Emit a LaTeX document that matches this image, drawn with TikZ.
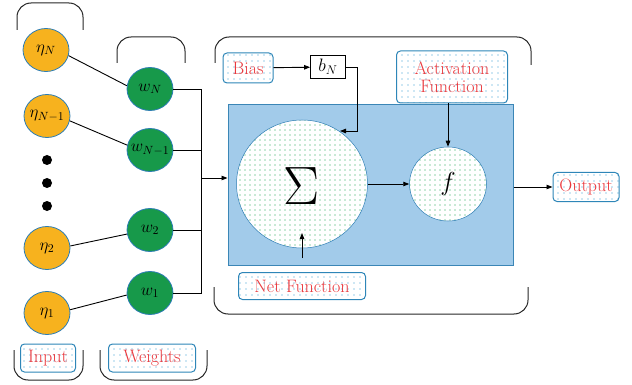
\documentclass[tikz,border=0pt]{standalone}
\usepackage{fix-cm}
\usepackage{fontspec}
\usetikzlibrary{arrows.meta,patterns.meta,shapes.geometric}
\definecolor{orng}{HTML}{F7B21E}
\definecolor{grn}{HTML}{17994A}
\definecolor{cborder}{HTML}{2C7DB4}
\definecolor{corefill}{HTML}{A2CBEA}
\definecolor{coreedge}{HTML}{3B86B6}
\definecolor{lblred}{HTML}{EA383D}
\definecolor{boxedge}{HTML}{2E86B8}
\definecolor{boxdots}{HTML}{2E9BD0}
\definecolor{cdots}{HTML}{1DA050}
\tikzset{
  base/.style={font=\fontsize{18}{20}\selectfont},
  cbase/.style={font=\fontsize{17}{19}\selectfont},
  inp/.style={cbase,ellipse,draw=cborder,fill=orng,line width=0.8pt,minimum width=46,minimum height=43,inner sep=-4pt},
  wgt/.style={cbase,ellipse,draw=cborder,fill=grn,line width=0.8pt,minimum width=46,minimum height=43,inner sep=-4pt},
  blackdot/.style={circle,fill=black,minimum size=10,inner sep=0pt},
  lbl/.style={base,text=lblred,draw=boxedge,line width=1pt,rounded corners=4,
     preaction={fill=white},pattern={Dots[distance=6pt,radius=0.65pt]},pattern color=boxdots,
     inner sep=0pt,align=center},
  dotcirc/.style={ellipse,draw=cborder,line width=0.5pt,preaction={fill=white},
     pattern={Dots[distance=5pt,radius=0.7pt]},pattern color=cdots,inner sep=0pt},
  conn/.style={line width=0.9pt},
  arr/.style={line width=0.9pt,-{Triangle[length=6pt,width=4.5pt]}},
  brk/.style={line width=1pt,rounded corners=14,black!85},
}
\begin{document}
\begin{tikzpicture}[x=1pt,y=-1pt]
\useasboundingbox (0,0) rectangle (632,385);
% brackets
\draw[brk] (17,30) -- (17,3) -- (83,3) -- (83,30);
\draw[brk] (117,63) -- (117,37) -- (185,37) -- (185,63);
\draw[brk] (215,63) -- (215,37) -- (531,37) -- (531,65);
\draw[brk] (14,350) -- (14,380) -- (83,380) -- (83,350);
\draw[brk] (100,350) -- (100,380) -- (207,380) -- (207,350);
\draw[brk] (214,287) -- (214,314) -- (528,314) -- (528,287);
% inputs
\node[inp] (eN) at (46,50) {$\eta_N$};
\node[inp] (eN1) at (47,116) {$\eta_{N-1}$};
\node[blackdot] (d1) at (47,160) {};
\node[blackdot] (d2) at (47,183) {};
\node[blackdot] (d3) at (47,206) {};
\node[inp] (e2) at (47,248) {$\eta_2$};
\node[inp] (e1) at (47,313) {$\eta_1$};
% weights
\node[wgt] (wN) at (150,89) {$w_N$};
\node[wgt] (wN1) at (150,150) {$w_{N-1}$};
\node[wgt] (w2) at (150,230) {$w_2$};
\node[wgt] (w1) at (150,293) {$w_1$};
\draw[conn] (eN.-14) -- (wN.172);
\draw[conn] (eN1.-12) -- (wN1.168);
\draw[conn] (e2.5) -- (w2.190);
\draw[conn] (e1.8) -- (w1.185);
% labels bottom
\node[lbl,minimum width=55,minimum height=28] (input) at (48,358) {Input};
\node[lbl,minimum width=87,minimum height=28] (weights) at (152,358) {Weights};
% core
\node[draw=coreedge,fill=corefill,line width=1pt,minimum width=285,minimum height=160,inner sep=0pt] (core) at (370.5,185) {};
\node[dotcirc,minimum width=131,minimum height=128] (sum) at (302,184) {};
\node[font=\fontsize{54}{56}\selectfont] (sigma) at (302,186) {Σ};
\node[dotcirc,minimum width=77,minimum height=74,font=\fontsize{26}{28}\selectfont] (f) at (448,184) {$f$};
% bus
\coordinate (jn) at (201,178);
\draw[conn] (wN.east) -| (jn);
\draw[conn] (w1.east) -| (jn);
\draw[conn] (wN1.east) -- (wN1.east -| jn);
\draw[conn] (w2.east) -- (w2.east -| jn);
\draw[arr] (jn) -- (core.west |- jn);
% sum -> f
\draw[arr] (sum.east) -- (f.west);
% output
\node[lbl,minimum width=66,minimum height=29] (out) at (586,187) {Output};
\draw[arr] (core.east |- out) -- (out.west);
% bias
\node[lbl,minimum width=50,minimum height=30] (bias) at (248,68) {Bias};
\node[base,draw,fill=white,line width=0.8pt,minimum width=35,minimum height=23,inner sep=0pt] (bN) at (328,67) {$b_N$};
\draw[arr] (bias) -- (bN);
\coordinate (bc) at (357,131);
\coordinate (bin) at (340,131);
\draw[arr] (bN.east) -| (bc) -- (bin);
% activation
\node[lbl,minimum width=111,minimum height=52] (act) at (452,77) {Activation\\[-2pt]Function};
\draw[arr] (act.south -| f.north) -- (f.north);
% net function
\node[lbl,minimum width=127,minimum height=27] (net) at (302,286) {Net Function};
\coordinate (nfs) at (302,258);
\coordinate (nfe) at (302,233);
\draw[arr] (nfs) -- (nfe);
\end{tikzpicture}
\end{document}
